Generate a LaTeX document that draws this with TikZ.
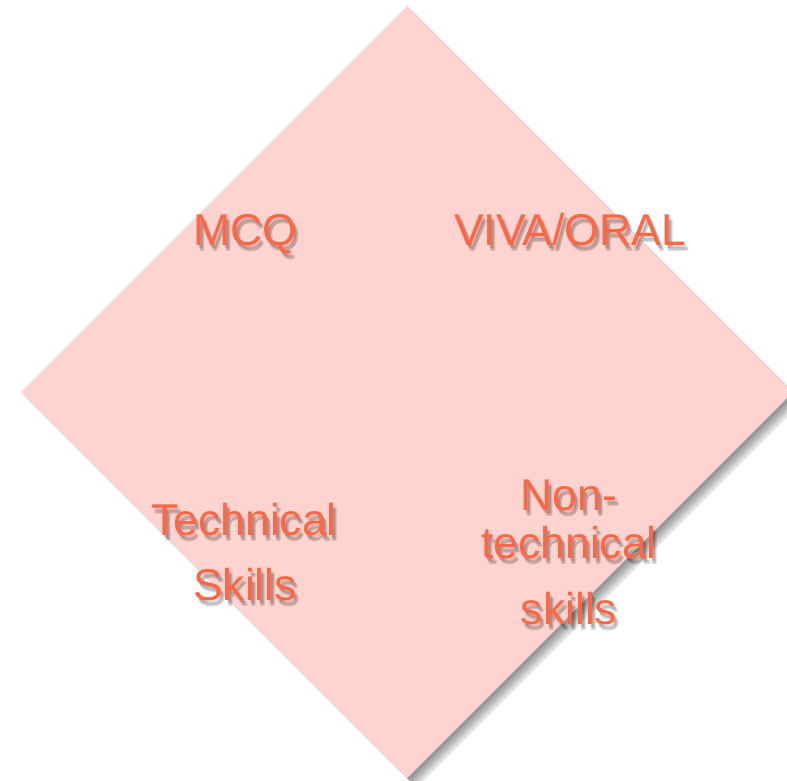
\documentclass[tikz,border=0pt]{standalone}
\usepackage{fontspec}
\setmainfont{Liberation Sans}
\definecolor{dfill}{HTML}{FFD3CF}
\definecolor{tcol}{HTML}{FF6643}
\tikzset{
  lbl/.style={anchor=base, inner sep=0pt, text=tcol, font=\fontsize{44.5bp}{52bp}\selectfont},
  lblsh/.style={anchor=base, inner sep=0pt, text=black, opacity=0.12, font=\fontsize{44.5bp}{52bp}\selectfont},
  dshadow/.style={fill=black, opacity=0.055, draw=none}
}
\newcommand{\shlabel}[3]{%
  \foreach \dx/\dy in {2/3,4/5,3/6}{%
    \node[lblsh] at ([xshift=\dx bp,yshift=-\dy bp]#2) {#3};}
  \node[lbl] (#1) at (#2) {#3};}
\begin{document}
\begin{tikzpicture}[x=1bp,y=-1bp]
\useasboundingbox (0,0) rectangle (787,781);
\clip (0,0) rectangle (787,781);
\coordinate (T) at (407,6);
\coordinate (R) at (793,392);
\coordinate (B) at (407,778);
\coordinate (L) at (21,392);
% soft shadow of the diamond
\foreach \s in {2,3,4,5,6,7,8,9,10}{
  \fill[dshadow] ([xshift=\s bp,yshift=-\s bp]T) -- ([xshift=\s bp,yshift=-\s bp]R) -- ([xshift=\s bp,yshift=-\s bp]B) -- ([xshift=\s bp,yshift=-\s bp]L) -- cycle;
}
\fill[dfill] (T) -- (R) -- (B) -- (L) -- cycle;
% labels
\coordinate (pmcq) at (245,245);
\coordinate (pviva) at (570,245);
\coordinate (ptech) at (244,535);
\coordinate (pskills) at (245,600);
\coordinate (pnon) at (569,510);
\coordinate (ptechnical) at (569,558);
\coordinate (pskl) at (569,624);
\shlabel{mcq}{pmcq}{MCQ}
\shlabel{viva}{pviva}{VIVA/ORAL}
\shlabel{tech}{ptech}{Technical}
\shlabel{skills}{pskills}{Skills}
\shlabel{non}{pnon}{Non-}
\shlabel{technical}{ptechnical}{technical}
\shlabel{skl}{pskl}{skills}
\end{tikzpicture}
\end{document}
